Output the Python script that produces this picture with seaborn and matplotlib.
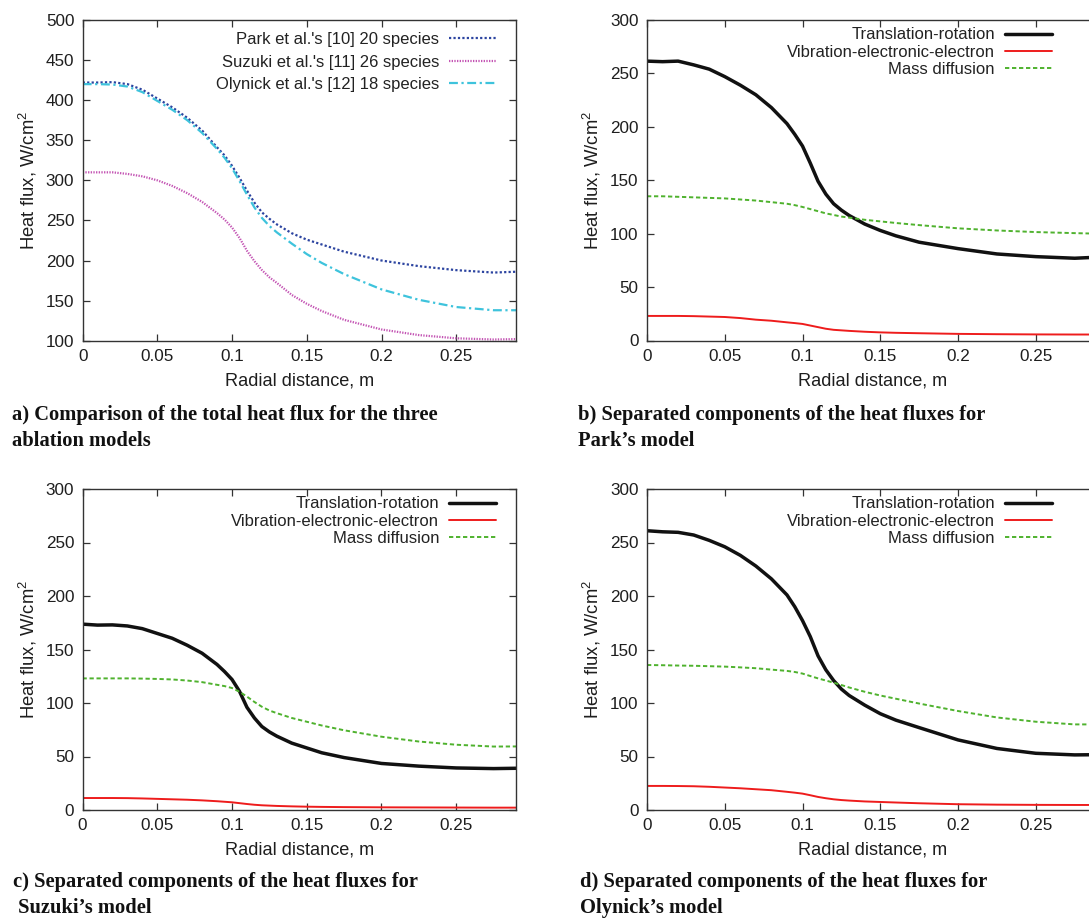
import numpy as np
import pandas as pd
import matplotlib
matplotlib.use("Agg")
import matplotlib.pyplot as plt
import seaborn as sns

# Radial stations (m)
radius = [0.0, 0.01, 0.02, 0.03, 0.04, 0.05, 0.06, 0.07, 0.08, 0.09, 0.095, 0.10,
          0.105, 0.11, 0.115, 0.12, 0.125, 0.13, 0.14, 0.15, 0.16, 0.175, 0.20,
          0.225, 0.25, 0.275, 0.29]

# Total heat flux, W/cm^2
total_park = [422, 422, 422.5, 420, 413, 402, 391, 378, 362, 341, 331, 318,
              303, 287, 272, 260, 252, 245, 234, 226, 220, 211, 200,
              193, 188, 185, 186]
total_suzuki = [310, 310, 310, 308, 305, 300, 293, 284, 273, 259, 251, 241,
                228, 212, 199, 188, 179, 172, 157, 146, 137, 126, 114,
                107, 103, 101.5, 102]
total_olynick = [420, 420, 419.5, 417, 410, 399, 388, 375, 359, 339, 328, 315,
                 299, 282, 266, 253, 243, 235, 221, 208, 197, 183, 164,
                 151, 142, 138, 138]

# Park model components
park_tr = [261.5, 261, 261.5, 258, 254, 247, 239, 230, 218, 203, 193, 182,
           166, 149, 137, 128, 122, 117, 109, 103, 98, 92, 86,
           81, 78.5, 77, 78]
park_ve = [23, 23, 23, 22.8, 22.4, 22, 21, 19.5, 18.5, 17, 16.3, 15.5,
           14, 12.5, 11, 10, 9.5, 9, 8.2, 7.6, 7.2, 6.8, 6.2,
           5.9, 5.7, 5.6, 5.6]
park_md = [135, 135, 134.5, 134, 133.5, 133, 132, 131, 129.5, 128, 126.7, 125,
           123, 121, 119, 117.5, 116, 115, 113, 111.5, 110, 108, 105,
           103, 101.5, 100.5, 100]

# Suzuki model components
suzuki_tr = [173.7, 172.8, 173, 172, 169.5, 165, 160.5, 154, 146.5, 136, 129.4, 122,
             111, 96, 86, 78, 73, 69, 62.5, 58, 53.5, 49, 43.5,
             41, 39.3, 38.7, 39]
suzuki_ve = [11.2, 11.2, 11.2, 11.1, 10.8, 10.4, 10, 9.6, 9, 8.2, 7.7, 7.2,
             6.4, 5.6, 4.9, 4.4, 4.1, 3.8, 3.4, 3.1, 2.9, 2.7, 2.5,
             2.4, 2.3, 2.2, 2.2]
suzuki_md = [123, 123, 123, 123, 122.8, 122.5, 122, 121, 119.5, 117, 115.8, 114,
             110.5, 106, 101, 96.5, 93, 90.5, 86, 82.5, 79, 74.5, 68.5,
             64, 61, 59.3, 59.4]

# Olynick model components
olynick_tr = [261, 260, 259.5, 257, 252, 246, 238, 228, 216, 201, 190, 177,
              162, 144, 131, 121, 113, 107, 98, 90, 84, 77, 65.5,
              57.5, 53, 51.5, 51.7]
olynick_ve = [22.5, 22.5, 22.4, 22.2, 21.7, 21, 20.3, 19.4, 18.5, 17, 16.2, 15.3,
              13.8, 12.2, 11, 10, 9.3, 8.8, 8, 7.5, 7, 6.3, 5.4,
              5, 4.8, 4.7, 4.7]
olynick_md = [135.5, 135.3, 135, 134.8, 134.4, 134, 133.3, 132.5, 131.2, 130, 129, 127.5,
              125.2, 123, 121, 119, 116.8, 114.5, 110.5, 107, 104, 99.5, 92.5,
              86.5, 82.5, 80, 80]

total_labels = ["Park et al.'s [10] 20 species",
                "Suzuki et al.'s [11] 26 species",
                "Olynick et al.'s [12] 18 species"]
component_labels = ["Translation-rotation",
                    "Vibration-electronic-electron",
                    "Mass diffusion"]

x_ticks = [0, 0.05, 0.1, 0.15, 0.2, 0.25]
x_ticklabels = ["0", "0.05", "0.1", "0.15", "0.2", "0.25"]

captions = [
    "a) Comparison of the total heat flux for the three\nablation models",
    "b) Separated components of the heat fluxes for\nPark\u2019s model",
    "c) Separated components of the heat fluxes for\n Suzuki\u2019s model",
    "d) Separated components of the heat fluxes for\nOlynick\u2019s model",
]

sns.set_theme(style="ticks")
plt.rcParams["font.family"] = ["Liberation Sans", "DejaVu Sans"]
plt.rcParams["mathtext.fontset"] = "custom"
plt.rcParams["mathtext.rm"] = "Liberation Sans"
plt.rcParams["mathtext.it"] = "Liberation Sans"
plt.rcParams["text.color"] = "#222222"

W, H = 1089, 918
fig = plt.figure(figsize=(W / 100, H / 100), dpi=100)


def px_axes(left, top, right, bottom):
    return fig.add_axes([left / W, 1 - bottom / H, (right - left) / W, (bottom - top) / H])


ax_a = px_axes(82.7, 20, 516, 340.7)
ax_b = px_axes(647, 20, 1098, 340.5)
ax_c = px_axes(82.5, 489, 516, 810)
ax_d = px_axes(647, 489, 1098, 810)

total_style = [
    dict(color="#2c44a0", linestyle=(0, (1.0, 1.0)), linewidth=1.6),
    dict(color="#c455b4", linestyle=(0, (0.6, 0.6)), linewidth=1.6),
    dict(color="#3ec3dc", linestyle=(0, (4.0, 1.6, 1.0, 1.6)), linewidth=1.6),
]
component_style = [
    dict(color="#111111", linestyle="-", linewidth=2.5),
    dict(color="#ee1c1c", linestyle="-", linewidth=1.4),
    dict(color="#4fb22e", linestyle=(0, (2.2, 1.4)), linewidth=1.4),
]

for vals, lab, st in zip([total_park, total_suzuki, total_olynick], total_labels, total_style):
    sns.lineplot(x=radius, y=vals, ax=ax_a, label=lab, **st)

panels = [
    (ax_b, [park_tr, park_ve, park_md]),
    (ax_c, [suzuki_tr, suzuki_ve, suzuki_md]),
    (ax_d, [olynick_tr, olynick_ve, olynick_md]),
]
for ax, series in panels:
    for vals, lab, st in zip(series, component_labels, component_style):
        sns.lineplot(x=radius, y=vals, ax=ax, label=lab, **st)

ax_a.set_ylim(100, 500)
ax_a.set_yticks(range(100, 501, 50))
for ax, _ in panels:
    ax.set_ylim(0, 300)
    ax.set_yticks(range(0, 301, 50))

for ax in [ax_a, ax_b, ax_c, ax_d]:
    ax.set_xlim(0, 0.29)
    ax.set_xticks(x_ticks)
    ax.set_xticklabels(x_ticklabels)
    ax.tick_params(direction="in", length=5, width=0.9, top=True, right=True,
                   labelsize=12.3, colors="#333333", labelcolor="#1e1e1e", pad=6)
    for sp in ax.spines.values():
        sp.set_color("#333333")
        sp.set_linewidth(1.0)
    ax.set_xlabel("Radial distance, m", fontsize=13.1, labelpad=6, color="#1e1e1e")
    ax.set_ylabel("Heat flux, W/cm$^2$", fontsize=13.3, labelpad=5, color="#1e1e1e")

legend_pos = {
    ax_a: (0.954, 0.962, 0.45),
    ax_b: (0.897, 0.977, 0.14),
    ax_c: (0.954, 0.977, 0.14),
    ax_d: (0.897, 0.977, 0.14),
}
for ax, (lx, ly, lsp) in legend_pos.items():
    ax.legend(loc="upper right", bbox_to_anchor=(lx, ly), frameon=False,
              markerfirst=False, fontsize=12.0, handlelength=2.8,
              handletextpad=0.6, labelspacing=lsp, borderpad=0, borderaxespad=0)

cap_pos = [(12, 428), (578, 428), (13, 895), (580, 895)]
for (cx, cy), txt in zip(cap_pos, captions):
    fig.text(cx / W, 1 - cy / H, txt, ha="left", va="center", fontsize=14.8,
             fontweight="bold", family=["Liberation Serif", "DejaVu Serif"],
             color="#111111", linespacing=1.4)

fig.savefig("out.png", dpi=100)
